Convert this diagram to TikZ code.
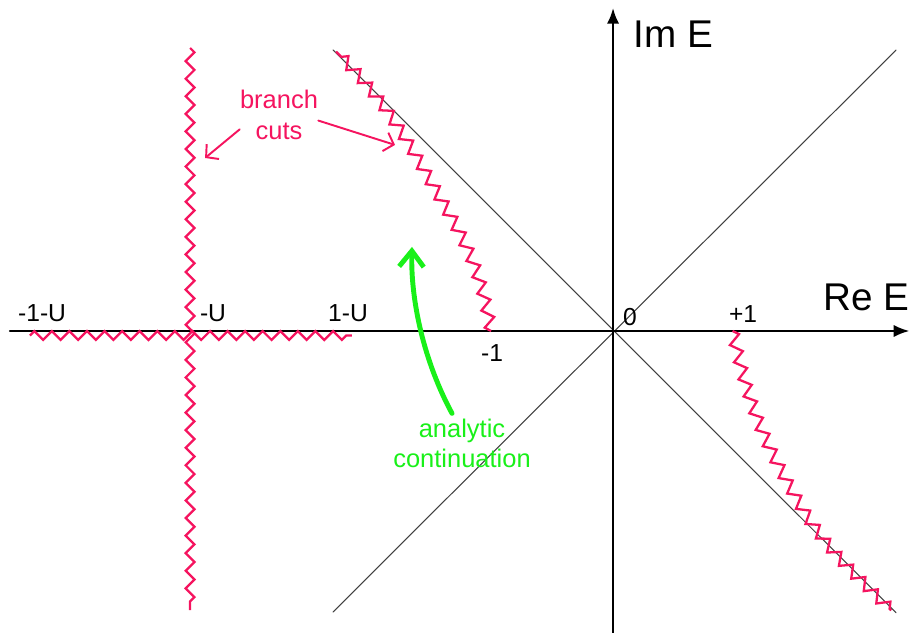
\documentclass[tikz,border=0pt]{standalone}
\usepackage{fontspec}
\setmainfont{Liberation Sans}
\usetikzlibrary{arrows.meta,decorations.pathmorphing}
\definecolor{cutpink}{RGB}{245,20,95}
\definecolor{contgreen}{RGB}{25,240,25}
\tikzset{
	axis/.style={line width=1.4pt},
	diag/.style={line width=0.6pt,black!75},
	cut/.style={cutpink,line width=1.3pt,line cap=butt,decorate,
		decoration={zigzag,amplitude=#1,segment length=10pt}},
	cut/.default=2.5pt,
	pinkarrow/.style={cutpink,line width=1.1pt,-{Straight Barb[length=5pt,width=11pt]}},
	greenarrow/.style={contgreen,line width=2.8pt,-{Straight Barb[length=9pt,width=14pt]}},
	small/.style={font=\fontsize{14}{16}\selectfont,inner sep=0pt,anchor=base},
	big/.style={font=\fontsize{22}{26}\selectfont,inner sep=0pt,anchor=base},
	note/.style={font=\fontsize{14.5}{17.5}\selectfont,align=center,inner sep=0pt}
}
\begin{document}
\begin{tikzpicture}[line cap=round,>={Latex[length=9pt,width=7pt]},x=2.44cm,y=2.44cm]
	\useasboundingbox (-5.025,-2.475) rectangle (2.434,2.713);
	% axes and light cone
	\draw[diag] (-2.295,2.303)--(2.32,-2.31);
	\draw[diag] (-2.295,-2.303)--(2.32,2.303);
	\draw[axis,->] (-4.943,0)--(2.43,0);
	\draw[axis,->] (0,-2.475)--(0,2.648);
	\node[big] (re) at (2.08,0.172) {Re E};
	\node[big] (im) at (0.492,2.32) {Im E};
	% ticks
	\node[small] (m1mu) at (-4.68,0.074) {-1-U};
	\node[small] (mu) at (-3.279,0.074) {-U};
	\node[small] (p1mu) at (-2.172,0.074) {1-U};
	\node[small] (m1) at (-0.992,-0.254) {-1};
	\node[small] (zero) at (0.139,0.049) {0};
	\node[small] (p1) at (1.066,0.066) {+1};
	% branch cuts
	\draw[cut] (-3.467,2.32)--(-3.467,-2.287);
	\draw[cut] (-4.78,-0.037)--(-2.14,-0.037);
	\draw[cut=3.2pt] (-1.0,0) to[out=100,in=-60] (-1.36,0.99) to[out=120,in=-45] (-2.27,2.29);
	\draw[cut=3.2pt] (0.98,0) to[out=-78,in=120] (1.51,-1.385) to[out=-60,in=135] (2.28,-2.29);
	\node[note,cutpink] (cuts) at (-2.738,1.77) {branch\\cuts};
	\coordinate (cutA) at (-3.344,1.418);
	\coordinate (cutB) at (-1.787,1.525);
	\draw[pinkarrow] (cuts.200)--(cutA);
	\draw[pinkarrow] (cuts.-8)--(cutB);
	% continuation
	\node[note,contgreen] (ana) at (-1.238,-0.922) {analytic\\continuation};
	\coordinate (anaEnd) at (-1.648,0.689);
	\draw[greenarrow] ([xshift=-0.2cm,yshift=0.1cm]ana.north) .. controls (-1.55,-0.25) and (-1.66,0.25) .. (anaEnd);
\end{tikzpicture}
\end{document}
